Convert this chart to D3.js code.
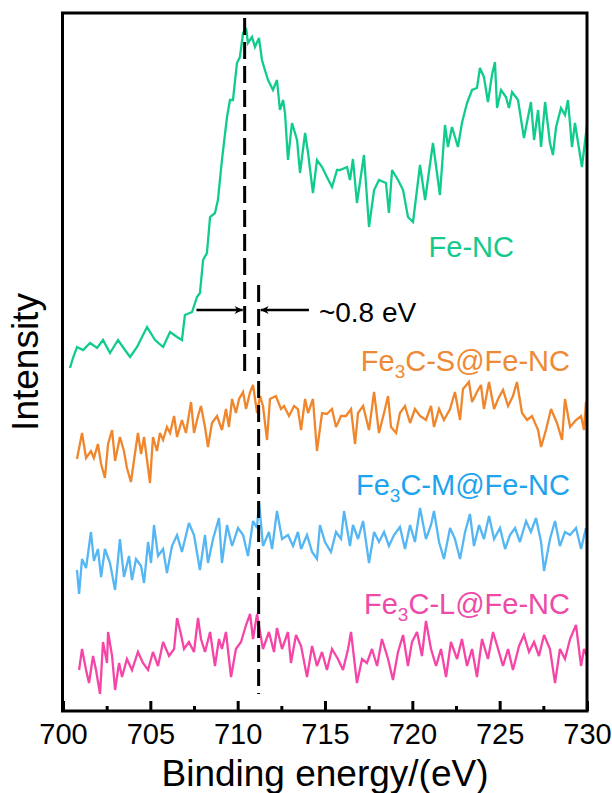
<!DOCTYPE html>
<html>
<head>
<meta charset="utf-8">
<script src="https://cdn.jsdelivr.net/npm/d3@7"></script>
<style>
  html, body { margin: 0; padding: 0; background: #fff; }
  svg { display: block; font-family: "Liberation Sans", Arial, sans-serif; }
</style>
</head>
<body>
<svg id="chart" width="612" height="793"></svg>
<script>
// Fe 2p spectra (offset for clarity), binding energy in eV, intensity in a.u.
const feNC_E = [700.40,700.57,700.80,701.15,701.55,701.95,702.29,702.69,703.15,703.55,703.84,704.24,704.81,705.27,705.73,706.13,706.53,706.81,706.98,707.39,707.67,707.84,708.02,708.24,708.42,708.70,708.87,709.10,709.39,709.56,709.73,709.96,710.13,710.31,710.48,710.59,710.82,710.99,711.22,711.39,711.56,711.74,712.02,712.25,712.42,712.60,712.71,712.88,713.11,713.40,713.57,713.86,714.03,714.31,714.54,714.83,715.11,715.40,715.69,715.86,716.26,716.43,716.60,716.83,717.23,717.52,717.81,718.09,718.49,718.66,718.84,719.18,719.47,719.75,720.04,720.44,720.73,721.18,721.58,721.87,722.04,722.27,722.61,722.84,723.13,723.42,723.70,723.87,724.10,724.33,724.56,724.73,724.85,725.08,725.36,725.53,725.71,726.05,726.39,726.79,726.97,727.20,727.37,727.60,727.88,728.05,728.23,728.51,728.74,728.91,729.14,729.31,729.71,730.00];
const feNC_I = [343,353,364,361,368,363,371,358,371,361,354,364,384,371,364,379,374,371,396,399,414,418,451,458,494,498,511,551,594,611,611,648,654,678,683,668,674,664,673,651,641,631,621,631,601,611,598,551,588,571,538,578,558,518,551,544,534,524,541,541,544,531,552,508,556,484,521,531,528,498,541,531,521,494,489,546,511,568,516,586,564,584,564,588,608,621,623,643,634,609,636,649,603,621,614,603,619,611,573,609,571,601,564,609,568,556,584,603,596,611,564,588,544,586];

const feS_E = [700.80,701.09,701.32,701.60,701.77,702.00,702.18,702.40,702.58,702.81,702.98,703.26,703.49,703.66,703.89,704.06,704.29,704.47,704.64,704.87,704.98,705.15,705.38,705.55,705.73,705.95,706.13,706.36,706.53,706.81,707.04,707.33,707.50,707.73,707.90,708.13,708.30,708.53,708.82,709.10,709.33,709.50,709.68,709.90,710.08,710.31,710.48,710.71,710.88,711.11,711.28,711.45,711.68,711.85,712.19,712.48,712.65,712.94,713.23,713.45,713.63,713.86,714.03,714.31,714.54,714.83,715.11,715.40,715.63,715.92,716.20,716.49,716.72,716.89,717.18,717.52,717.81,718.09,718.38,718.61,718.78,719.07,719.29,719.58,719.87,720.15,720.44,720.78,721.07,721.24,721.53,721.81,722.16,722.44,722.73,722.90,723.24,723.42,723.70,723.93,724.10,724.39,724.68,724.91,725.19,725.48,725.76,725.99,726.28,726.57,726.85,727.20,727.37,727.65,727.94,728.28,728.57,728.74,729.03,729.37,729.66,729.83,729.94];
const feS_I = [252,278,253,260,253,267,247,233,267,281,250,274,260,243,229,250,278,257,274,243,228,274,260,278,271,284,278,295,274,291,278,309,278,295,305,284,264,288,295,281,302,284,312,298,312,319,302,319,326,298,315,305,271,312,315,302,305,295,305,302,281,312,298,312,260,298,297,302,284,295,295,302,267,298,305,281,319,278,298,315,284,278,298,305,288,302,295,291,305,284,302,291,302,319,291,322,329,309,319,326,302,329,302,312,321,305,315,329,298,291,295,281,264,281,302,288,271,312,284,291,295,281,309];

const feM_E = [700.80,700.92,701.09,701.32,701.60,701.77,702.00,702.18,702.40,702.69,702.98,703.26,703.49,703.78,703.95,704.18,704.47,704.64,704.87,705.04,705.21,705.44,705.73,705.95,706.24,706.53,706.81,707.21,707.50,707.84,708.13,708.30,708.59,708.93,709.10,709.39,709.68,710.02,710.31,710.59,710.88,711.11,711.22,711.45,711.79,711.97,712.25,712.54,712.88,713.17,713.45,713.63,713.97,714.26,714.54,714.71,715.00,715.34,715.63,715.92,716.09,716.43,716.60,716.89,717.18,717.52,717.81,718.09,718.38,718.66,718.95,719.29,719.58,719.87,720.15,720.44,720.78,721.07,721.24,721.53,721.81,722.16,722.44,722.73,723.02,723.30,723.53,723.82,724.10,724.39,724.68,725.02,725.31,725.59,725.88,726.16,726.51,726.79,727.08,727.37,727.54,727.88,728.17,728.45,728.74,729.03,729.37,729.66,729.94];
const feM_I = [141,117,152,143,179,150,162,134,162,148,121,172,134,155,131,152,145,128,169,148,186,155,162,138,165,176,159,188,176,141,176,148,172,193,148,186,165,183,176,155,190,183,210,165,179,162,200,172,176,165,179,162,176,159,152,186,169,159,179,172,200,165,186,172,190,148,179,169,179,165,176,184,162,186,169,203,172,186,200,169,152,183,172,152,179,197,165,186,172,195,172,183,162,176,183,169,190,179,193,169,140,172,190,165,179,176,183,162,183];

const feL_E = [700.92,701.09,701.32,701.49,701.72,701.89,702.12,702.29,702.52,702.58,702.81,702.98,703.21,703.38,703.66,703.95,704.29,704.58,704.87,705.15,705.44,705.73,706.07,706.36,706.53,706.76,706.93,707.21,707.50,707.73,707.90,708.13,708.42,708.70,708.93,709.10,709.33,709.62,709.90,710.19,710.48,710.71,710.88,711.11,711.28,711.45,711.79,712.08,712.25,712.54,712.88,713.05,713.34,713.63,713.97,714.26,714.54,714.83,715.11,715.40,715.74,716.03,716.32,716.49,716.83,717.12,717.40,717.69,717.98,718.26,718.61,718.89,719.18,719.47,719.75,719.98,720.27,720.55,720.78,721.07,721.36,721.64,721.93,722.21,722.56,722.84,723.13,723.42,723.70,723.99,724.33,724.62,724.91,725.19,725.48,725.76,726.11,726.39,726.68,726.97,727.25,727.54,727.88,728.17,728.45,728.74,729.03,729.37,729.66,729.83,730.00];
const feL_I = [41,62,41,28,55,41,17,69,48,79,55,21,48,34,52,41,59,48,41,59,45,69,55,62,93,76,62,69,59,93,72,59,79,45,72,62,79,34,62,69,86,97,72,97,79,62,79,59,83,62,79,48,76,65,34,65,45,59,41,62,52,41,62,79,28,52,48,62,45,72,52,31,59,76,45,69,79,55,90,62,45,62,34,69,52,72,45,62,34,72,52,79,62,45,62,41,65,76,59,69,55,76,62,28,62,52,72,86,45,62,55];

const seriesNames  = ["Fe-NC", "Fe3C-S@Fe-NC", "Fe3C-M@Fe-NC", "Fe3C-L@Fe-NC"];
const lineColors   = ["#10cc8c", "#f0862c", "#55b6f4", "#f545a6"];
const labelColors  = ["#14c98b", "#ee8a35", "#1ea3ee", "#ee4aa7"];

const xTicks = [700, 705, 710, 715, 720, 725, 730];
const xMinorTicks = [702.5, 707.5, 712.5, 717.5, 722.5, 727.5];

// Positions of the two peak markers (eV) and the shift between them
const peakFeNC = 710.4;
const peakFe3C = 711.2;
const shiftLabel = "~0.8 eV";

const svg = d3.select("#chart");
const L = 63, R = 587, T = 13, B = 711;

const x = d3.scaleLinear().domain([700, 730]).range([L, R]);
const y = d3.scaleLinear().domain([0, 698]).range([B, T]);

const series = [
  { E: feNC_E, I: feNC_I },
  { E: feS_E,  I: feS_I },
  { E: feM_E,  I: feM_I },
  { E: feL_E,  I: feL_I }
];

const line = d3.line().x(d => x(d[0])).y(d => y(d[1]));

const plot = svg.append("g");
series.forEach((s, i) => {
  const pts = s.E.map((e, k) => [e, s.I[k]]);
  plot.append("path")
    .attr("d", line(pts))
    .attr("fill", "none")
    .attr("stroke", lineColors[i])
    .attr("stroke-width", 2.3)
    .attr("stroke-linejoin", "miter")
    .attr("stroke-miterlimit", 3);
});

// Dashed peak markers
svg.append("line")
  .attr("x1", x(peakFeNC)).attr("x2", x(peakFeNC))
  .attr("y1", y(693)).attr("y2", y(339))
  .attr("stroke", "#000").attr("stroke-width", 3)
  .attr("stroke-dasharray", "17,7");
svg.append("line")
  .attr("x1", x(peakFe3C)).attr("x2", x(peakFe3C))
  .attr("y1", y(426)).attr("y2", y(17))
  .attr("stroke", "#000").attr("stroke-width", 3)
  .attr("stroke-dasharray", "17,7");

// Shift arrows
const defs = svg.append("defs");
defs.append("marker")
  .attr("id", "head")
  .attr("viewBox", "0 0 10 10")
  .attr("refX", 10).attr("refY", 5)
  .attr("markerWidth", 17).attr("markerHeight", 8)
  .attr("markerUnits", "userSpaceOnUse")
  .attr("orient", "auto")
  .append("path").attr("d", "M0,0 L10,5 L0,10 L3,5 Z").attr("fill", "#000");

const arrowY = y(401);
svg.append("line")
  .attr("x1", x(707.64)).attr("x2", x(peakFeNC) - 2)
  .attr("y1", arrowY).attr("y2", arrowY)
  .attr("stroke", "#000").attr("stroke-width", 2.5)
  .attr("marker-end", "url(#head)");
svg.append("line")
  .attr("x1", x(714.08)).attr("x2", x(peakFe3C) + 2)
  .attr("y1", arrowY).attr("y2", arrowY)
  .attr("stroke", "#000").attr("stroke-width", 2.5)
  .attr("marker-end", "url(#head)");
svg.append("text")
  .attr("x", x(714.65)).attr("y", arrowY + 12)
  .attr("font-size", 28).attr("fill", "#000")
  .text(shiftLabel);

// Frame
svg.append("rect")
  .attr("x", L - 0.5).attr("y", T)
  .attr("width", R - L + 0.5).attr("height", B - T)
  .attr("fill", "none").attr("stroke", "#000").attr("stroke-width", 3);

// Bottom axis ticks (inward) and labels
const axis = d3.axisBottom(x).tickValues(xTicks).tickSizeInner(-10).tickSizeOuter(0).tickPadding(12);
const gx = svg.append("g").attr("transform", `translate(0,${B})`).call(axis);
gx.select(".domain").remove();
gx.selectAll(".tick line").attr("stroke", "#000").attr("stroke-width", 3);
gx.selectAll(".tick text")
  .attr("font-size", 29).attr("fill", "#000")
  .attr("font-family", "'Liberation Sans', Arial, sans-serif");

const minor = d3.axisBottom(x).tickValues(xMinorTicks).tickSizeInner(-5).tickSizeOuter(0).tickFormat("");
const gm = svg.append("g").attr("transform", `translate(0,${B})`).call(minor);
gm.select(".domain").remove();
gm.selectAll(".tick line").attr("stroke", "#000").attr("stroke-width", 3);

// Axis titles
svg.append("text")
  .attr("x", (L + R) / 2).attr("y", 786)
  .attr("text-anchor", "middle").attr("font-size", 37).attr("fill", "#000")
  .text("Binding energy/(eV)");
svg.append("text")
  .attr("transform", `translate(38,${(T + B) / 2}) rotate(-90)`)
  .attr("text-anchor", "middle").attr("font-size", 37).attr("fill", "#000")
  .text("Intensity");

// Series labels
const labelPos = [
  { xr: 514, yb: 257 },
  { xr: 570, yb: 371 },
  { xr: 570, yb: 495 },
  { xr: 570, yb: 614 }
];
seriesNames.forEach((name, i) => {
  const t = svg.append("text")
    .attr("x", labelPos[i].xr).attr("y", labelPos[i].yb)
    .attr("text-anchor", "end").attr("font-size", 29)
    .attr("fill", labelColors[i]);
  const m = name.match(/^(Fe)3(C.*)$/);
  if (m) {
    t.append("tspan").text(m[1]);
    t.append("tspan").attr("font-size", 19).attr("dy", 7).text("3");
    t.append("tspan").attr("dy", -7).text(m[2]);
  } else {
    t.text(name);
  }
});
</script>
</body>
</html>
